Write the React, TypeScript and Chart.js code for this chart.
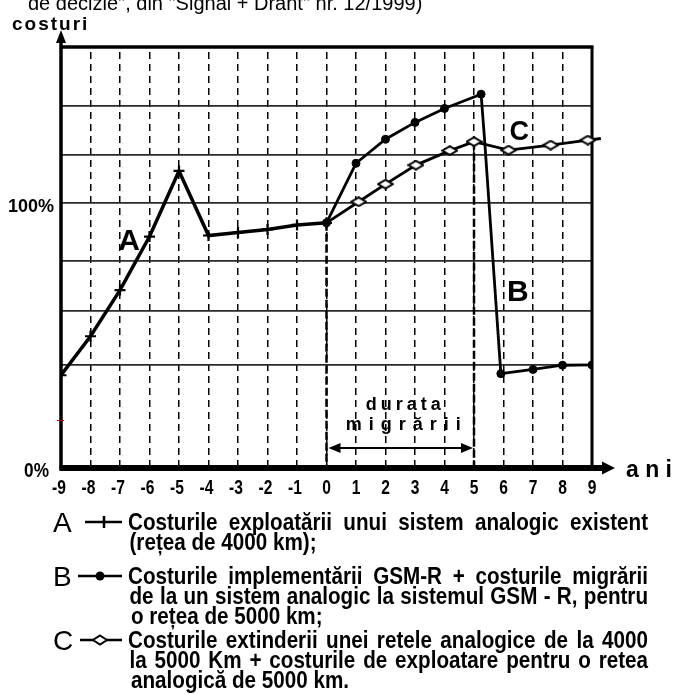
import React, { useEffect, useRef } from 'react';
import { Chart, registerables } from 'chart.js';
Chart.register(...registerables);

// ---- data ----
const yearTicks = [-9, -8, -7, -6, -5, -4, -3, -2, -1, 0, 1, 2, 3, 4, 5, 6, 7, 8, 9];
const costGridValues = [0, 38.9, 59.3, 78.2, 100, 118.3, 137, 159.3];
const costLabels = [
  { value: 0, text: '0%' },
  { value: 100, text: '100%' },
];

const seriesAYears = [-9, -8, -7, -6, -5, -4, -3, -2, -1, 0];
const seriesACosts = [34.8, 49.6, 67.1, 87.4, 112.3, 87.8, 88.9, 90.1, 91.8, 92.6];

const seriesBYears = [0, 1, 2, 3, 4, 5.24, 5.36, 5.91, 7, 8, 9];
const seriesBCosts = [92.6, 115.2, 124.3, 130.7, 136.0, 141.4, 124.0, 35.4, 37.0, 38.6, 38.7];
const seriesBMarked = [true, true, true, true, true, true, false, true, true, true, true];

const seriesCYears = [0, 1.09, 2, 3.03, 4.18, 5, 6.17, 7.6, 8.86, 9.3];
const seriesCCosts = [92.6, 100.6, 107.3, 114.5, 120.0, 123.4, 120.2, 122.1, 124.0, 124.6];
const seriesCMarked = [false, true, true, true, true, true, true, true, true, false];

const migrationStart = 0;
const migrationEnd = 5;

const headerText = 'de decizie", din "Signal + Drant" nr. 12/1999)';
const yTitle = 'costuri';
const xTitle = 'a n i';

const legendRows = [
  {
    letter: 'A',
    marker: 'cross',
    lines: ['Costurile exploatării  unui sistem analogic existent', '(rețea de 4000 km);'],
  },
  {
    letter: 'B',
    marker: 'dot',
    lines: [
      'Costurile implementării  GSM-R + costurile migrării',
      'de la un sistem analogic la sistemul GSM - R, pentru',
      'o rețea de 5000 km;',
    ],
  },
  {
    letter: 'C',
    marker: 'diamond',
    lines: [
      'Costurile extinderii unei retele analogice de la 4000',
      'la 5000  Km + costurile de exploatare pentru o retea',
      'analogică de 5000 km.',
    ],
  },
];
const legendRowCenters = [522, 576, 640];

const SANS = "'Liberation Sans', Arial, sans-serif";
const NARROW_SCALE = 0.86;

function zip(xs: number[], ys: number[]) {
  return xs.map((x, i) => ({ x, y: ys[i] }));
}

function makeDiamond(): HTMLCanvasElement {
  const c = document.createElement('canvas');
  c.width = 17;
  c.height = 11;
  const g = c.getContext('2d')!;
  g.beginPath();
  g.moveTo(8.5, 1.2);
  g.lineTo(15.8, 5.5);
  g.lineTo(8.5, 9.8);
  g.lineTo(1.2, 5.5);
  g.closePath();
  g.fillStyle = '#fff';
  g.fill();
  g.lineWidth = 2;
  g.strokeStyle = '#000';
  g.stroke();
  return c;
}

function fillNarrow(ctx: CanvasRenderingContext2D, text: string, x: number, y: number, align: CanvasTextAlign, sx = NARROW_SCALE) {
  ctx.save();
  ctx.translate(x, y);
  ctx.scale(sx, 1);
  ctx.textAlign = align;
  ctx.fillText(text, 0, 0);
  ctx.restore();
}

function drawJustified(ctx: CanvasRenderingContext2D, text: string, left: number, right: number, y: number, full: boolean) {
  const words = text.split(/\s+/);
  const s = NARROW_SCALE;
  const widths = words.map((w) => ctx.measureText(w).width * s);
  const total = widths.reduce((p, c) => p + c, 0);
  const gap = full && words.length > 1 ? (right - left - total) / (words.length - 1) : ctx.measureText(' ').width * s;
  let xx = left;
  words.forEach((w, i) => {
    fillNarrow(ctx, w, xx, y, 'left', s);
    xx += widths[i] + gap;
  });
}

function drawLegendMarker(ctx: CanvasRenderingContext2D, kind: string, cy: number) {
  ctx.save();
  ctx.strokeStyle = '#000';
  ctx.fillStyle = '#000';
  ctx.lineWidth = 2.5;
  if (kind === 'cross') {
    ctx.beginPath();
    ctx.moveTo(85, cy);
    ctx.lineTo(122, cy);
    ctx.moveTo(104, cy - 6);
    ctx.lineTo(104, cy + 6);
    ctx.stroke();
  } else if (kind === 'dot') {
    ctx.beginPath();
    ctx.moveTo(78, cy);
    ctx.lineTo(122, cy);
    ctx.stroke();
    ctx.beginPath();
    ctx.arc(100, cy, 4.5, 0, Math.PI * 2);
    ctx.fill();
  } else {
    ctx.beginPath();
    ctx.moveTo(80, cy);
    ctx.lineTo(122, cy);
    ctx.stroke();
    ctx.beginPath();
    ctx.moveTo(100, cy - 4.5);
    ctx.lineTo(107, cy);
    ctx.lineTo(100, cy + 4.5);
    ctx.lineTo(93, cy);
    ctx.closePath();
    ctx.fillStyle = '#fff';
    ctx.fill();
    ctx.lineWidth = 2;
    ctx.stroke();
  }
  ctx.restore();
}

const decorPlugin = {
  id: 'decor',
  beforeDatasetsDraw(chart: any) {
    const { ctx, chartArea: a, scales } = chart;
    const x = scales.x;
    const y = scales.y;
    ctx.save();
    ctx.strokeStyle = '#000';
    // thick dashed verticals marking migration period
    ctx.lineWidth = 2.5;
    ctx.setLineDash([8, 3]);
    const x0 = x.getPixelForValue(migrationStart);
    const x5 = x.getPixelForValue(migrationEnd);
    ctx.beginPath();
    ctx.moveTo(x0, y.getPixelForValue(seriesACosts[seriesACosts.length - 1]));
    ctx.lineTo(x0, a.bottom);
    const cIdx = seriesCYears.indexOf(migrationEnd);
    ctx.moveTo(x5, y.getPixelForValue(seriesCCosts[cIdx]));
    ctx.lineTo(x5, a.bottom);
    ctx.stroke();
    ctx.setLineDash([]);

    // top + right frame
    ctx.lineWidth = 3.5;
    ctx.beginPath();
    ctx.moveTo(a.left, a.top);
    ctx.lineTo(a.right + 1.5, a.top);
    ctx.stroke();
    ctx.lineWidth = 3;
    ctx.beginPath();
    ctx.moveTo(a.right, a.top);
    ctx.lineTo(a.right, a.bottom);
    ctx.stroke();

    // left axis with arrow
    ctx.lineWidth = 3.5;
    ctx.beginPath();
    ctx.moveTo(a.left, a.bottom + 3);
    ctx.lineTo(a.left, a.top - 6);
    ctx.stroke();
    ctx.fillStyle = '#000';
    ctx.beginPath();
    ctx.moveTo(a.left, a.top - 17);
    ctx.lineTo(a.left + 5, a.top - 4);
    ctx.lineTo(a.left - 5, a.top - 4);
    ctx.closePath();
    ctx.fill();

    // bottom axis with arrow
    ctx.lineWidth = 6;
    ctx.beginPath();
    ctx.moveTo(a.left - 1.5, a.bottom + 1);
    ctx.lineTo(a.right + 12, a.bottom + 1);
    ctx.stroke();
    ctx.beginPath();
    ctx.moveTo(a.right + 23, a.bottom + 1);
    ctx.lineTo(a.right + 10, a.bottom - 5.5);
    ctx.lineTo(a.right + 10, a.bottom + 7.5);
    ctx.closePath();
    ctx.fill();

    // small red mark on the y axis
    ctx.strokeStyle = '#c00000';
    ctx.lineWidth = 1;
    const yr = Math.round(y.getPixelForValue(17.8)) + 0.5;
    ctx.beginPath();
    ctx.moveTo(a.left - 4, yr);
    ctx.lineTo(a.left + 3, yr);
    ctx.stroke();
    ctx.restore();
  },
  afterDraw(chart: any) {
    const { ctx, chartArea: a, scales } = chart;
    const x = scales.x;
    const y = scales.y;
    ctx.save();
    ctx.fillStyle = '#000';
    ctx.strokeStyle = '#000';

    // header (cut at the top)
    ctx.font = `20px ${SANS}`;
    ctx.textAlign = 'left';
    ctx.textBaseline = 'alphabetic';
    ctx.fillText(headerText, 28, 10);

    // y title
    ctx.font = `bold 19px ${SANS}`;
    (ctx as any).letterSpacing = '2px';
    ctx.fillText(yTitle, 12, 30);
    (ctx as any).letterSpacing = '0px';

    // x title
    ctx.font = `bold 23px ${SANS}`;
    ctx.fillText(xTitle, 626, 477);

    // y labels
    costLabels.forEach((l) => {
      if (l.value === 0) {
        ctx.font = `bold 21px ${SANS}`;
        fillNarrow(ctx, l.text, a.left - 12, y.getPixelForValue(l.value) + 10, 'right', 0.82);
      } else {
        ctx.font = `bold 18px ${SANS}`;
        ctx.textAlign = 'right';
        ctx.fillText(l.text, a.left - 7, y.getPixelForValue(l.value) + 9);
      }
    });

    // x tick labels
    ctx.font = `bold 20px ${SANS}`;
    yearTicks.forEach((t) => {
      fillNarrow(ctx, String(t), x.getPixelForValue(t) - (t < 0 ? 2 : 0), a.bottom + 27, 'center', 0.78);
    });

    // series letters
    ctx.textAlign = 'center';
    ctx.font = `bold 30px ${SANS}`;
    ctx.textBaseline = 'middle';
    ctx.fillText('A', x.getPixelForValue(-6.69), y.getPixelForValue(85.3));
    ctx.fillText('B', x.getPixelForValue(6.49), y.getPixelForValue(66));
    ctx.font = `bold 27px ${SANS}`;
    ctx.fillText('C', x.getPixelForValue(6.53), y.getPixelForValue(126.7));

    // migration duration label
    ctx.font = `bold 18px ${SANS}`;
    const cx = x.getPixelForValue((migrationStart + migrationEnd) / 2) + 3;
    (ctx as any).letterSpacing = '4px';
    ctx.fillText('durata', cx + 2, y.getPixelForValue(23.5));
    (ctx as any).letterSpacing = '7px';
    ctx.fillText('migrării', cx + 3.5, y.getPixelForValue(15.9));
    (ctx as any).letterSpacing = '0px';

    // double arrow
    const ay = y.getPixelForValue(7.2);
    const xs = x.getPixelForValue(migrationStart) + 2;
    const xe = x.getPixelForValue(migrationEnd) - 1;
    ctx.lineWidth = 1.8;
    ctx.beginPath();
    ctx.moveTo(xs + 6, ay);
    ctx.lineTo(xe - 6, ay);
    ctx.stroke();
    ctx.beginPath();
    ctx.moveTo(xs, ay);
    ctx.lineTo(xs + 12, ay - 5);
    ctx.lineTo(xs + 12, ay + 5);
    ctx.closePath();
    ctx.fill();
    ctx.beginPath();
    ctx.moveTo(xe, ay);
    ctx.lineTo(xe - 12, ay - 5);
    ctx.lineTo(xe - 12, ay + 5);
    ctx.closePath();
    ctx.fill();

    // legend
    ctx.textBaseline = 'alphabetic';
    legendRows.forEach((row, ri) => {
      const cy = legendRowCenters[ri];
      ctx.font = `28px ${SANS}`;
      ctx.textAlign = 'left';
      ctx.fillText(row.letter, 53, cy + 10);
      drawLegendMarker(ctx, row.marker, cy);
      ctx.font = `bold 24px ${SANS}`;
      row.lines.forEach((ln, li) => {
        const full = li < row.lines.length - 1;
        const left = 128 + li * 1.5;
        drawJustified(ctx, ln, left, 648, cy + li * 20 + 8, full);
      });
    });
    ctx.restore();
  },
};

export default function App() {
  const ref = useRef<HTMLCanvasElement>(null);
  useEffect(() => {
    const canvas = ref.current!;
    const diamond = makeDiamond();
    const chart = new Chart(canvas, {
      type: 'scatter',
      data: {
        datasets: [
          {
            label: 'A',
            data: zip(seriesAYears, seriesACosts),
            showLine: true,
            borderColor: '#000',
            borderWidth: 3.5,
            pointStyle: 'cross',
            pointRadius: 5.5,
            pointBorderWidth: 2.2,
            pointBorderColor: '#000',
            tension: 0,
          },
          {
            label: 'C',
            data: zip(seriesCYears, seriesCCosts),
            showLine: true,
            borderColor: '#000',
            borderWidth: 2.8,
            pointStyle: diamond as any,
            pointRadius: seriesCMarked.map((m) => (m ? 5 : 0)),
            tension: 0,
            clip: false as any,
          },
          {
            label: 'B',
            data: zip(seriesBYears, seriesBCosts),
            showLine: true,
            borderColor: '#000',
            borderWidth: 2.8,
            pointStyle: 'circle',
            pointRadius: seriesBMarked.map((m) => (m ? 4 : 0)),
            pointBackgroundColor: '#000',
            pointBorderColor: '#000',
            pointBorderWidth: 1,
            tension: 0,
          },
        ],
      },
      options: {
        responsive: false,
        animation: false,
        devicePixelRatio: 1,
        events: [],
        layout: { padding: { left: 61, top: 47, right: 83, bottom: 227 } },
        plugins: { legend: { display: false }, tooltip: { enabled: false } },
        scales: {
          x: {
            type: 'linear',
            min: -9,
            max: 9,
            ticks: { display: false, stepSize: 1 },
            grid: {
              drawTicks: false,
              lineWidth: 1.5,
              color: (c: any) =>
                c.tick && (c.tick.value === -9 || c.tick.value === 9) ? 'rgba(0,0,0,0)' : '#000',
            },
            border: { display: false, dash: [7, 5], dashOffset: 7 },
          },
          y: {
            type: 'linear',
            min: 0,
            max: costGridValues[costGridValues.length - 1],
            afterBuildTicks: (s: any) => {
              s.ticks = costGridValues.map((v) => ({ value: v }));
            },
            ticks: { display: false },
            grid: {
              drawTicks: false,
              lineWidth: 1.7,
              color: (c: any) =>
                c.tick &&
                (c.tick.value === 0 || c.tick.value === costGridValues[costGridValues.length - 1])
                  ? 'rgba(0,0,0,0)'
                  : '#2a2a2a',
            },
            border: { display: false },
          },
        },
      },
      plugins: [decorPlugin],
    });
    return () => chart.destroy();
  }, []);

  return (
    <div
      style={{
        position: 'fixed',
        left: 0,
        top: 0,
        width: 675,
        height: 694,
        background: '#fff',
        overflow: 'hidden',
      }}
    >
      <canvas ref={ref} width={675} height={694} style={{ position: 'absolute', left: 0, top: 0 }} />
    </div>
  );
}
